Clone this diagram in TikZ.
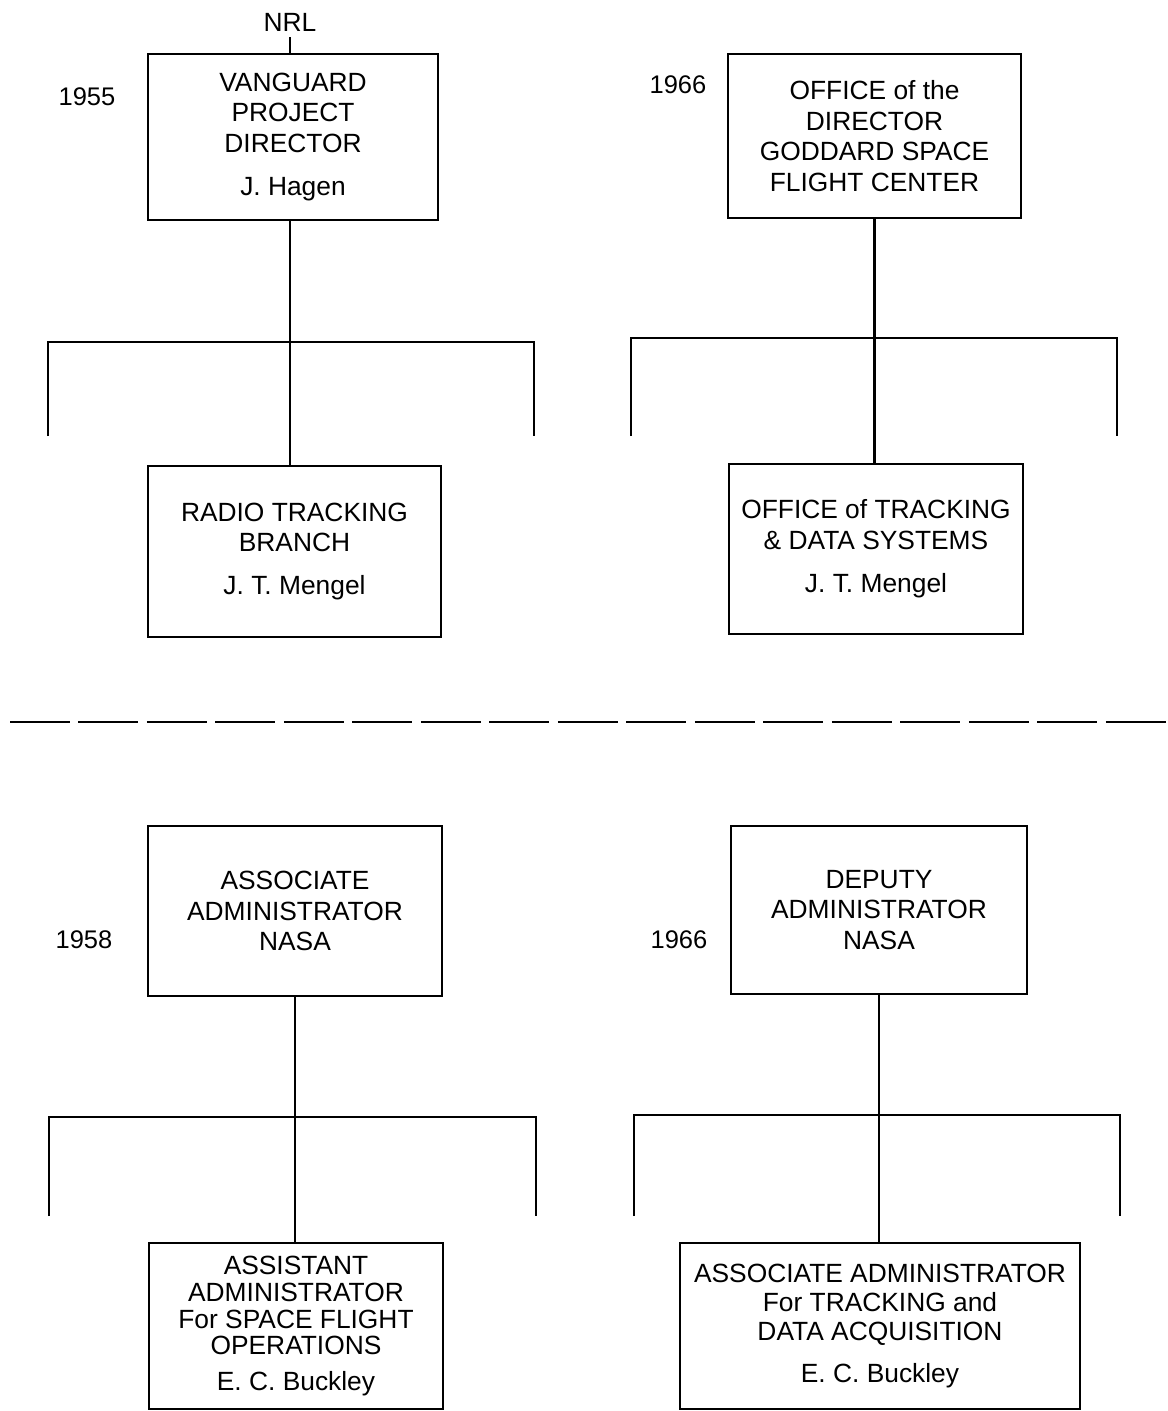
\documentclass[tikz,border=0pt]{standalone}
\usepackage{fontspec}
\setmainfont{Liberation Sans}
\usetikzlibrary{positioning}

\begin{document}
\begin{tikzpicture}[
  x=0.02cm, y=-0.02cm,
  every node/.style={font=\fontsize{15}{17.5}\selectfont},
  orgbox/.style={draw, line width=1.2pt, align=center, inner sep=0pt},
  year/.style={font=\fontsize{14.5}{17}\selectfont},
  link/.style={line width=1.2pt},
]
  % Background
  \useasboundingbox (0,0) rectangle (1168,1411);

  % 1955 Vanguard
  \node (nrl) at (290,22) {NRL};
  \node[orgbox, minimum width=290*0.02cm, minimum height=166*0.02cm] (vanguard) at (293,137)
    {VANGUARD\\PROJECT\\DIRECTOR\\[7pt]J. Hagen};
  \node[year] (y55) at (87,97) {1955};
  \node[orgbox, minimum width=293*0.02cm, minimum height=171*0.02cm] (radio) at (294.5,551.5)
    {RADIO TRACKING\\BRANCH\\[7pt]J. T. Mengel};
  \draw[link] (nrl.south) -- (nrl.south |- vanguard.north);
  \draw[link] (vanguard.south -| nrl.south) -- (nrl.south |- radio.north);
  \draw[link] (48,436) |- (534,342) -- (534,436);

  % 1966 Goddard
  \node[orgbox, minimum width=293*0.02cm, minimum height=164*0.02cm] (goddard) at (874.5,136)
    {OFFICE of the\\DIRECTOR\\GODDARD SPACE\\FLIGHT CENTER};
  \node[year] (y66a) at (678,85) {1966};
  \node[orgbox, minimum width=294*0.02cm, minimum height=170*0.02cm] (otds) at (876,549)
    {OFFICE of TRACKING\\\& DATA SYSTEMS\\[7pt]J. T. Mengel};
  \draw[link] (goddard.south) -- (goddard.south |- otds.north);
  \draw[link] (631,436) |- (1117,338) -- (1117,436);

  % Separator
  \draw[link, dash pattern=on 1.2cm off 0.17cm] (10,722) -- (1168,722);

  % 1958 NASA
  \node[orgbox, minimum width=294*0.02cm, minimum height=170*0.02cm] (assoc) at (295,911)
    {ASSOCIATE\\ADMINISTRATOR\\NASA};
  \node[year] (y58) at (84,940) {1958};
  \node[orgbox, minimum width=294*0.02cm, minimum height=166*0.02cm,
        font=\fontsize{15}{15.3}\selectfont] (assist) at (296,1326)
    {ASSISTANT\\ADMINISTRATOR\\For SPACE FLIGHT\\OPERATIONS\\[5pt]E. C. Buckley};
  \draw[link] (assoc.south) -- (assoc.south |- assist.north);
  \draw[link] (49,1216) |- (536,1117) -- (536,1216);

  % 1966 NASA
  \node[orgbox, minimum width=296*0.02cm, minimum height=168*0.02cm] (deputy) at (879,910)
    {DEPUTY\\ADMINISTRATOR\\NASA};
  \node[year] (y66b) at (679,940) {1966};
  \node[orgbox, minimum width=400*0.02cm, minimum height=166*0.02cm,
        font=\fontsize{15}{16.5}\selectfont] (tada) at (880,1326)
    {ASSOCIATE ADMINISTRATOR\\For TRACKING and\\DATA ACQUISITION\\[7pt]E. C. Buckley};
  \draw[link] (deputy.south) -- (deputy.south |- tada.north);
  \draw[link] (634,1216) |- (1120,1115) -- (1120,1216);
\end{tikzpicture}
\end{document}
